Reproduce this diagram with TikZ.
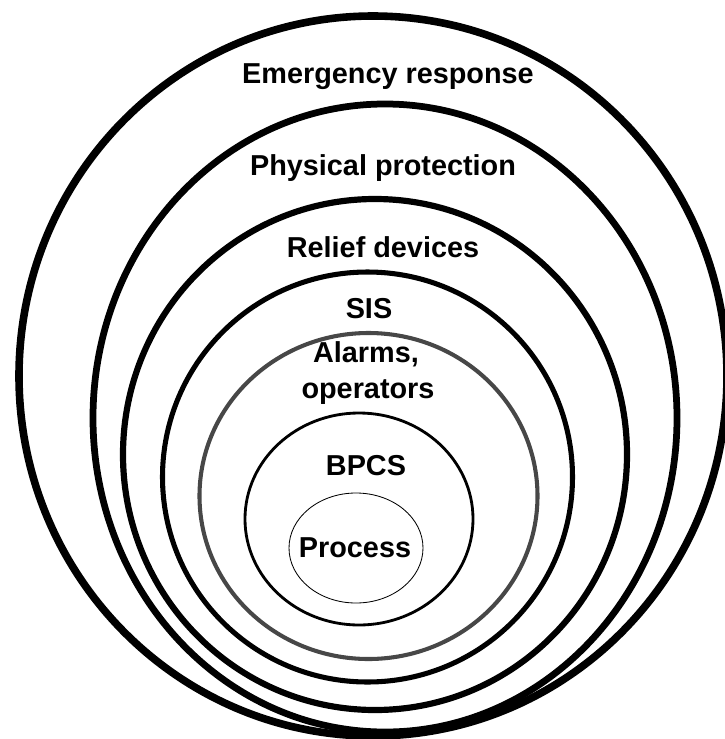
\documentclass[tikz,border=0pt]{standalone}
\usepackage{fontspec}
\setmainfont{Liberation Sans}
\usepackage{tikz}
\tikzstyle{layer} = [draw=black]
\tikzstyle{lbl} = [font=\fontsize{20.5}{24}\selectfont\bfseries, anchor=base, inner sep=0pt]

\begin{document}
\begin{tikzpicture}[x=0.025cm, y=-0.025cm]
    \useasboundingbox (0,0) rectangle (725,739);% page frame
    % the layers, outside in
    \draw[layer, line width=5.4pt] (373,376) ellipse [x radius=354, y radius=360];% emergency response
    \draw[layer, line width=4.8pt] (385,418) ellipse [x radius=292, y radius=314];% physical protection
    \draw[layer, line width=4.4pt] (375,454.5) ellipse [x radius=252, y radius=255.5];% relief devices
    \draw[layer, line width=3.6pt] (367.5,477) ellipse [x radius=205, y radius=205];% SIS
    \draw[layer, draw=black!72, line width=2.9pt] (368.5,496) ellipse [x radius=169, y radius=163];% alarms
    \draw[layer, line width=2pt] (359,519) ellipse [x radius=114, y radius=106];% BPCS
    \draw[layer, line width=0.6pt] (356,548) ellipse [x radius=67, y radius=55];% process
    % labels
    \node[lbl] (emerg) at (388,83) {Emergency response};
    \node[lbl] (phys) at (383,175) {Physical protection};
    \node[lbl] (relief) at (383,257) {Relief devices};
    \node[lbl] (sis) at (369,318) {SIS};
    \node[lbl] (alarms) at (366,362) {Alarms,};
    \node[lbl] (oper) at (368,398) {operators};
    \node[lbl] (bpcs) at (366,475) {BPCS};
    \node[lbl] (proc) at (355,557) {Process};
\end{tikzpicture}
\end{document}
